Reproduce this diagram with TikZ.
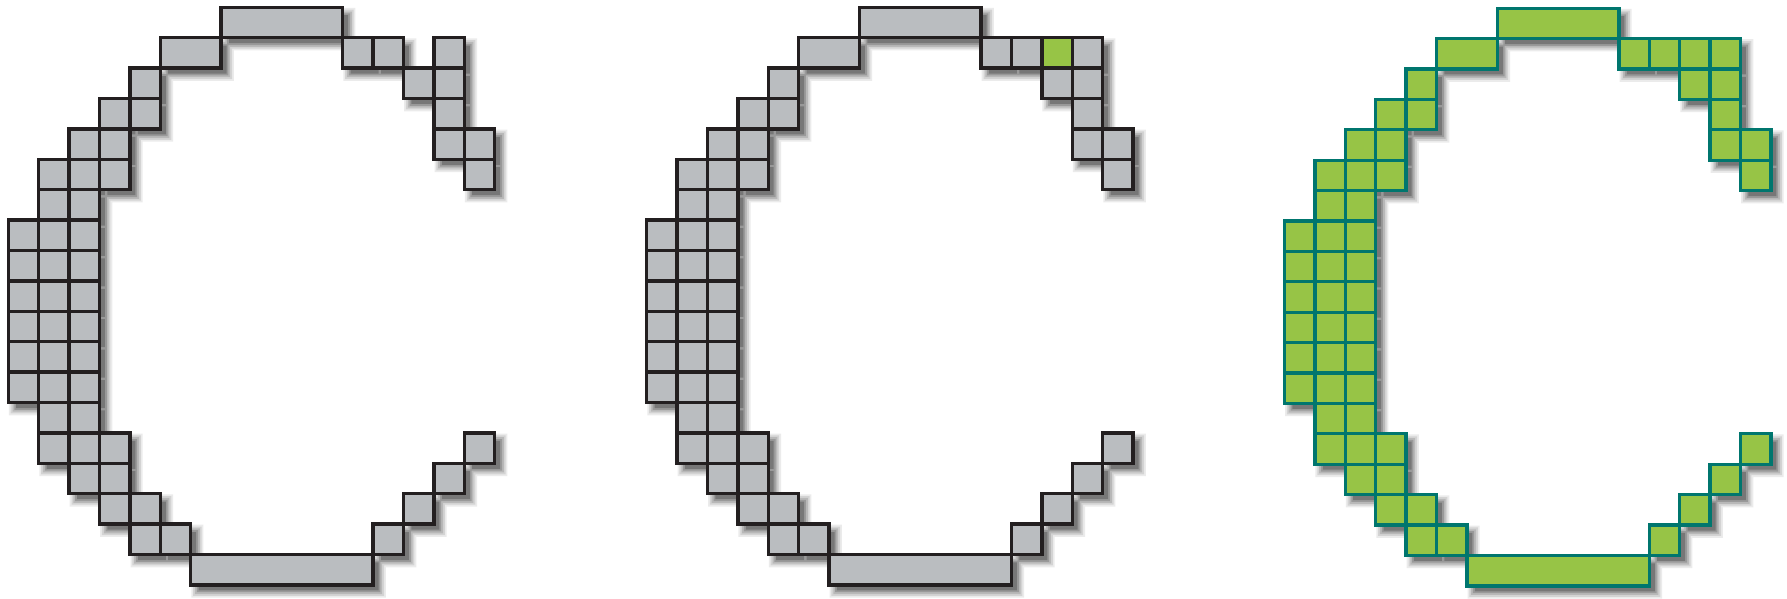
\documentclass[tikz,border=0pt]{standalone}
\usetikzlibrary{calc}
\definecolor{cellgray}{RGB}{186,189,192}
\definecolor{cellline}{RGB}{35,31,32}
\definecolor{cellgreen}{RGB}{151,196,70}
\definecolor{cellteal}{RGB}{0,118,110}
\newcommand\cellsBase{7/0/4, 5/1/2, 11/1/1, 12/1/1, 14/1/1,
 4/2/1, 13/2/1, 14/2/1,
 3/3/1, 4/3/1, 14/3/1,
 2/4/1, 3/4/1, 14/4/1, 15/4/1,
 1/5/1, 2/5/1, 3/5/1, 15/5/1,
 1/6/1, 2/6/1,
 0/7/1, 1/7/1, 2/7/1,
 0/8/1, 1/8/1, 2/8/1,
 0/9/1, 1/9/1, 2/9/1,
 0/10/1, 1/10/1, 2/10/1,
 0/11/1, 1/11/1, 2/11/1,
 0/12/1, 1/12/1, 2/12/1,
 1/13/1, 2/13/1,
 1/14/1, 2/14/1, 3/14/1, 15/14/1,
 2/15/1, 3/15/1, 14/15/1,
 3/16/1, 4/16/1, 13/16/1,
 4/17/1, 5/17/1, 12/17/1,
 6/18/6}
\newcommand\cellsFull{7/0/4, 5/1/2, 11/1/1, 12/1/1, 13/1/1, 14/1/1,
 4/2/1, 13/2/1, 14/2/1,
 3/3/1, 4/3/1, 14/3/1,
 2/4/1, 3/4/1, 14/4/1, 15/4/1,
 1/5/1, 2/5/1, 3/5/1, 15/5/1,
 1/6/1, 2/6/1,
 0/7/1, 1/7/1, 2/7/1,
 0/8/1, 1/8/1, 2/8/1,
 0/9/1, 1/9/1, 2/9/1,
 0/10/1, 1/10/1, 2/10/1,
 0/11/1, 1/11/1, 2/11/1,
 0/12/1, 1/12/1, 2/12/1,
 1/13/1, 2/13/1,
 1/14/1, 2/14/1, 3/14/1, 15/14/1,
 2/15/1, 3/15/1, 14/15/1,
 3/16/1, 4/16/1, 13/16/1,
 4/17/1, 5/17/1, 12/17/1,
 6/18/6}
% shadow of a cell list, offset d, layered for a soft edge
\newcommand\pixshadow[1]{%
  \foreach \e/\op in {0.20/0.08, 0.14/0.10, 0.08/0.13, 0.02/0.17, -0.04/0.22}{%
    \fill[black, opacity=\op]
      \foreach \c/\r/\w in #1 {
        (\c+0.22-\e, -\r-0.22+\e) rectangle (\c+\w+0.22+\e, -\r-1-0.22-\e)
      };
  }%
}
\newcommand\pixcells[2]{%
  \foreach \c/\r/\w in #1 {
    \draw[#2] (\c, -\r) rectangle (\c+\w, -\r-1);
  }%
}
\tikzset{
  graycell/.style={fill=cellgray, draw=cellline, line width=1.55pt, line join=miter},
  greencell/.style={fill=cellgreen, draw=cellteal, line width=1.55pt, line join=miter}
}
\begin{document}
\begin{tikzpicture}[x=0.5cm, y=0.5cm]
\useasboundingbox (0,0) rectangle (58.78,-19.67);
% first C
\begin{scope}[shift={(0.273,-0.24)}]
  \pixshadow{\cellsBase}
  \pixcells{\cellsBase}{graycell}
\end{scope}
% second C
\begin{scope}[shift={(21.27,-0.24)}]
  \pixshadow{\cellsFull}
  \pixcells{\cellsBase}{graycell}
  \draw[graycell, fill=cellgreen] (13,-1) rectangle (14,-2);
\end{scope}
% third C
\begin{scope}[shift={(42.25,-0.27)}]
  \pixshadow{\cellsFull}
  \pixcells{\cellsFull}{greencell}
\end{scope}
\end{tikzpicture}
\end{document}
